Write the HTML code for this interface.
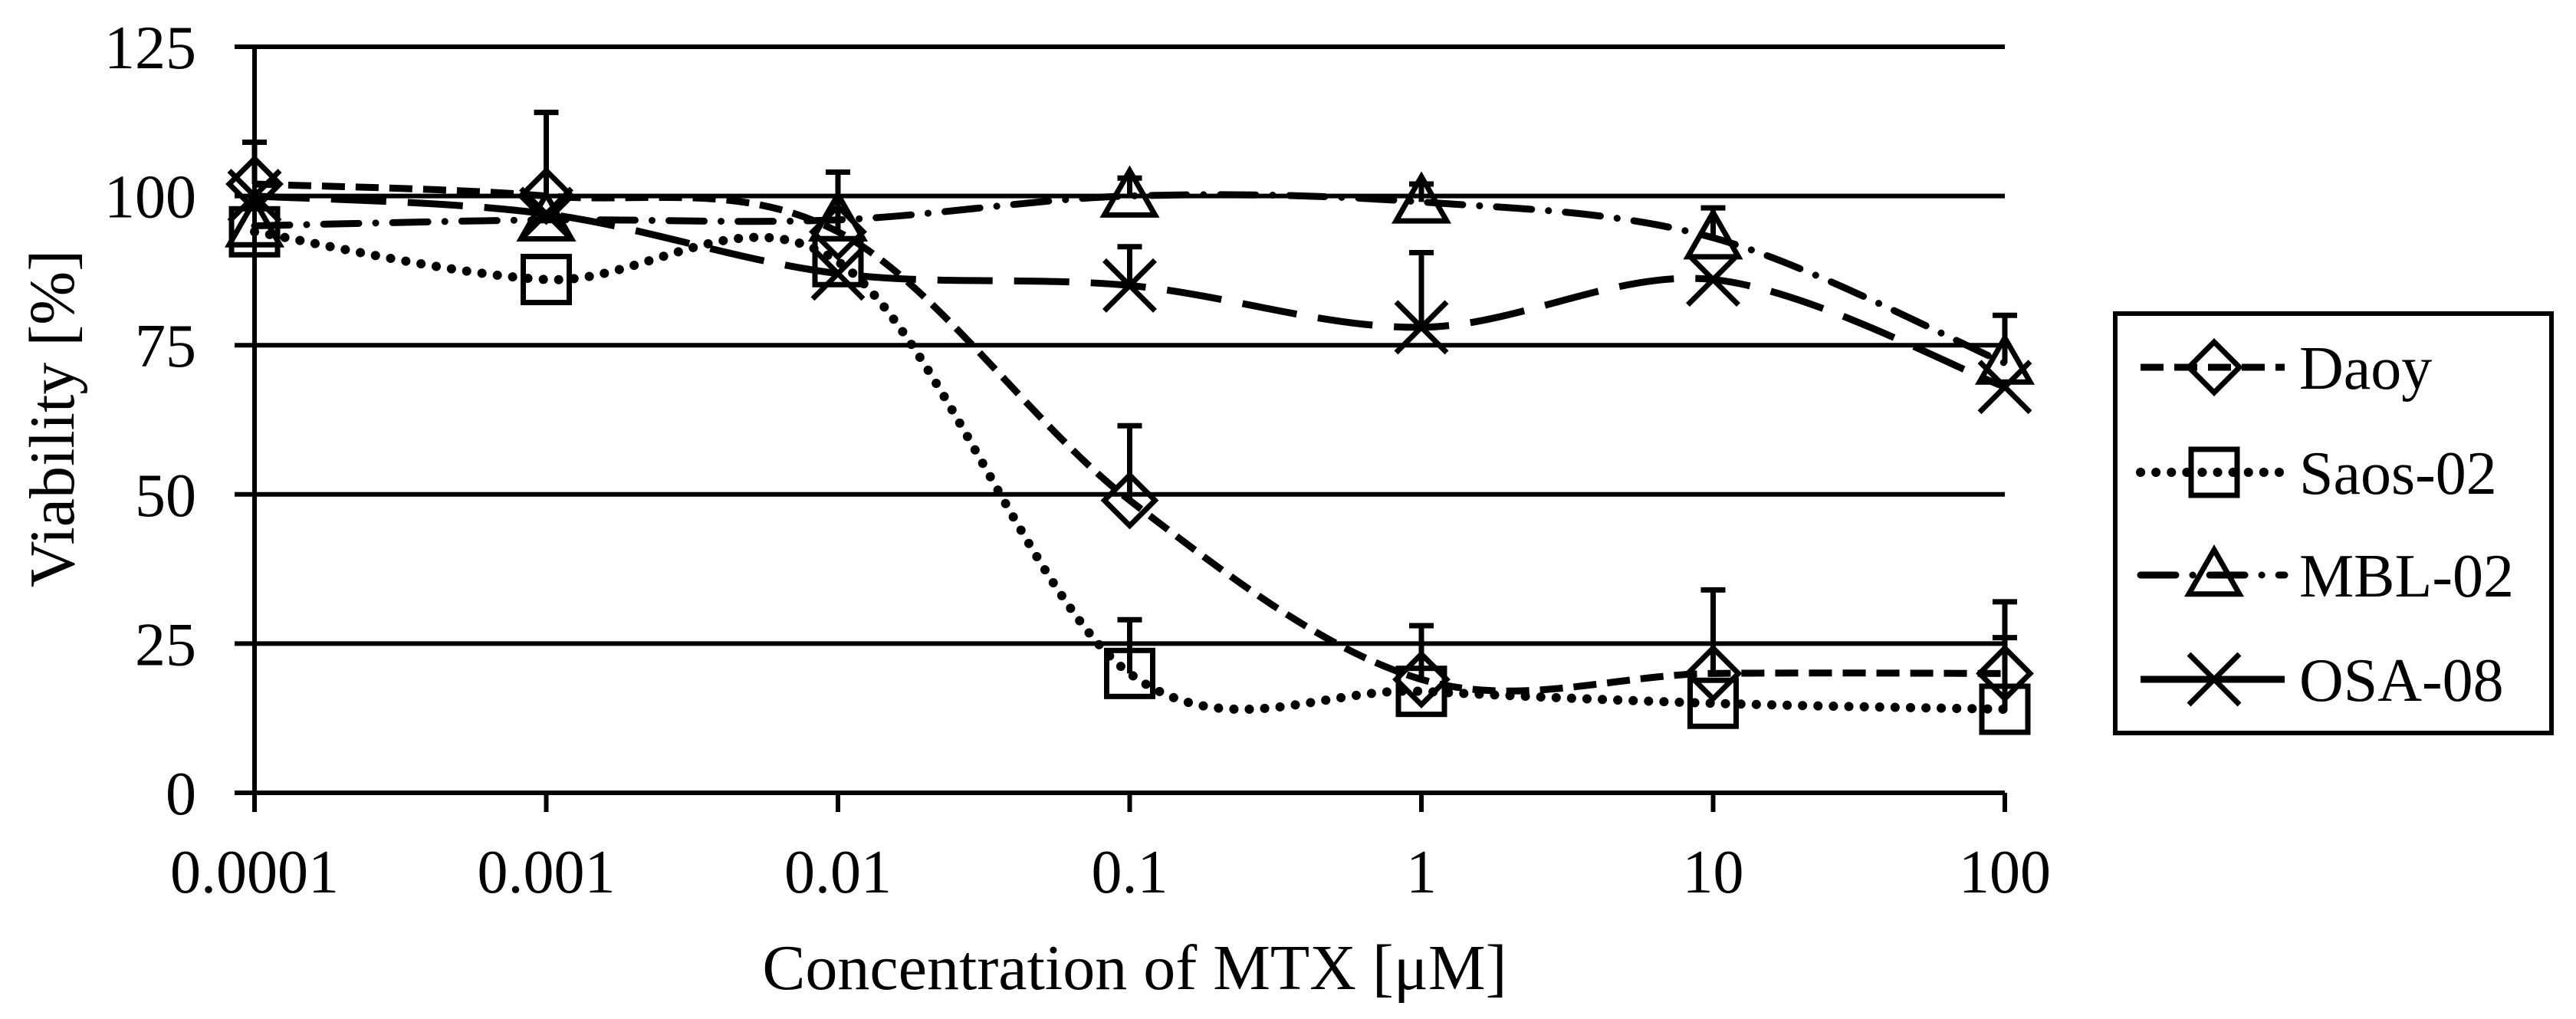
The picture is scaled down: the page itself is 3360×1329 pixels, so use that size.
<!DOCTYPE html>
<html><head><meta charset="utf-8"><style>
html,body{margin:0;padding:0;background:#fff}
svg{display:block;font-family:"Liberation Serif",serif}
</style></head><body>
<svg id="chart" width="3360" height="1329" viewBox="0 0 3360 1329" xmlns="http://www.w3.org/2000/svg">
<g id="grid"></g>
<g id="axes"></g>
<g id="series"></g>
<text x="1480" y="1290" font-size="84" text-anchor="middle">Concentration of MTX [μM]</text>
<text transform="translate(96,546) rotate(-90)" font-size="84" text-anchor="middle">Viability [%]</text>
<g>
<rect x="2759" y="409" width="569" height="547" fill="#fff" stroke="#000" stroke-width="6"/>
<g id="legend-items"></g>
</g>
</svg>
<script>
const categories = ["0.0001","0.001","0.01","0.1","1","10","100"];
const yTicks = [0,25,50,75,100,125];
const seriesNames = ["Daoy","Saos-02","MBL-02","OSA-08"];
const daoy = [102,100,94,49,19,20,20];
const daoyErr = [7,14,10,12.5,9,14,12];
const saos = [94,86,89,20,17,15,14];
const saosErr = [0,0,0,9,0,0,12];
const mbl = [95,96,96,100,99,93,72];
const mblErr = [0,0,0,3,3,5,8];
const osa = [100,97,87,85,78,86,68];
const osaErr = [0,0,0,6.5,12.5,0,0];

const NS="http://www.w3.org/2000/svg";
const X0=332,X1=2615,Y0=1034,Y1=61;
function xs(i){return X0+(X1-X0)*i/(categories.length-1);}
function ys(v){return Y0-(Y0-Y1)*v/125;}
function mk(tag,attrs,parent){const e=document.createElementNS(NS,tag);for(const k in attrs)e.setAttribute(k,attrs[k]);parent.appendChild(e);return e;}

const grid=document.getElementById('grid');
yTicks.forEach(t=>{
  const l=mk('line',{x1:306,x2:X1,y1:ys(t),y2:ys(t),stroke:'#000','stroke-width':6},grid);
  
  
  const tx=mk('text',{x:256,y:ys(t)+28,'font-size':80,'text-anchor':'end'},grid);
  tx.textContent=t;
  
  
});
const axes=document.getElementById('axes');
const ya=mk('line',{x1:X0,x2:X0,y1:Y1,y2:1059,stroke:'#000','stroke-width':6},axes);


categories.forEach((c,i)=>{
  const t=mk('line',{x1:xs(i),x2:xs(i),y1:Y0,y2:1059,stroke:'#000','stroke-width':6},axes);
  
  
  const tx=mk('text',{x:xs(i),y:1164,'font-size':80,'text-anchor':'middle'},axes);
  tx.textContent=c;
  
  
});

function smooth(pts){
  let d='M'+pts[0][0]+','+pts[0][1];
  for(let i=0;i<pts.length-1;i++){
    const p0=pts[Math.max(0,i-1)],p1=pts[i],p2=pts[i+1],p3=pts[Math.min(pts.length-1,i+2)];
    const t=1/6;
    d+=` C${p1[0]+(p2[0]-p0[0])*t},${p1[1]+(p2[1]-p0[1])*t} ${p2[0]-(p3[0]-p1[0])*t},${p2[1]-(p3[1]-p1[1])*t} ${p2[0]},${p2[1]}`;
  }
  return d;
}
function marker(type,cx,cy,parent){
  const s=33,a={fill:'none',stroke:'#000','stroke-width':7};
  let e;
  if(type==='diamond') e=mk('polygon',Object.assign({points:`${cx},${cy-s} ${cx+s},${cy} ${cx},${cy+s} ${cx-s},${cy}`},a),parent);
  else if(type==='square') e=mk('rect',Object.assign({x:cx-s+3,y:cy-s+3,width:2*s-6,height:2*s-6},a),parent);
  else if(type==='triangle') e=mk('polygon',Object.assign({points:`${cx},${cy-s} ${cx+s},${cy+s*0.75} ${cx-s},${cy+s*0.75}`},a),parent);
  else e=mk('path',Object.assign({d:`M${cx-s},${cy-s}L${cx+s},${cy+s}M${cx+s},${cy-s}L${cx-s},${cy+s}`},a),parent);
  return e;
}
const defs=[
 {name:'daoy',vals:daoy,err:daoyErr,m:'diamond',dash:'30 14',cap:'butt',w:9},
 {name:'saos-02',vals:saos,err:saosErr,m:'square',dash:'0.1 20',cap:'round',w:12},
 {name:'mbl-02',vals:mbl,err:mblErr,m:'triangle',dash:'46 22 0.1 22',cap:'round',w:9},
 {name:'osa-08',vals:osa,err:osaErr,m:'cross',dash:'72 28',cap:'butt',w:9}
];
const sg=document.getElementById('series');
defs.forEach(d=>{
  const g=mk('g',{},sg);
  
  
  const pts=d.vals.map((v,i)=>[xs(i),ys(v)]);
  const p=mk('path',{d:smooth(pts),fill:'none',stroke:'#000','stroke-width':d.w,'stroke-dasharray':d.dash,'stroke-linecap':d.cap},g);
  
  
  d.vals.forEach((v,i)=>{
    if(d.err[i]>0){
      const e=mk('path',{d:`M${xs(i)},${ys(v)}V${ys(v+d.err[i])}M${xs(i)-16},${ys(v+d.err[i])}H${xs(i)+16}`,stroke:'#000','stroke-width':7,fill:'none'},g);
      
      
    }
    const m=marker(d.m,xs(i),ys(v),g);
    
    
  });
});
const li=document.getElementById('legend-items');
const legY=[479,616,750,886];
const legDash=['30 14','0.1 20','46 22 0.1 22','none'];
defs.forEach((d,k)=>{
  const g=mk('g',{},li);
  
  
  mk('line',{x1:2792,x2:2980,y1:legY[k],y2:legY[k],stroke:'#000','stroke-width':d.w,'stroke-dasharray':legDash[k],'stroke-linecap':d.cap},g);
  marker(d.m,2888,legY[k],g);
  const t=mk('text',{x:2999,y:legY[k]+28,'font-size':80},g);
  t.textContent=seriesNames[k];
});
</script>
</body></html>
